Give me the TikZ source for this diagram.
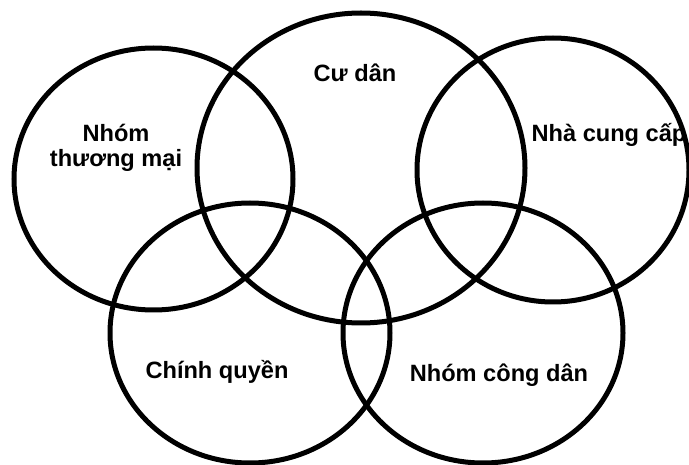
\documentclass[tikz,border=0pt]{standalone}
\usepackage{fontspec}
\setmainfont{Liberation Sans}
\usetikzlibrary{shapes.geometric}

\begin{document}
\begin{tikzpicture}[
    x=1pt, y=-1pt,
    ring/.style={ellipse, draw=black, line width=5pt, inner sep=0pt},
    lab/.style={font=\fontsize{23.6}{25}\selectfont\bfseries, align=center,
      inner sep=0pt, anchor=base}
  ]
    \useasboundingbox (0,0) rectangle (689,465);
    % circles
    \node[ring, minimum width=279pt, minimum height=262pt] (thuongmai) at (153.5,179) {};
    \node[ring, minimum width=328pt, minimum height=310pt] (cudan) at (361,168) {};
    \node[ring, minimum width=272pt, minimum height=264pt] (nhacc) at (553,170) {};
    \node[ring, minimum width=280pt, minimum height=260pt] (chinhq) at (250,333) {};
    \node[ring, minimum width=280pt, minimum height=260pt] (congdan) at (483,333) {};
    % labels
    \node[lab] (tm-lab) at (116,167) {Nhóm\\thương mại};
    \node[lab] (cd-lab) at (355,82) {Cư dân};
    \node[lab] (ncc-lab) at (609,142) {Nhà cung cấp};
    \node[lab] (cq-lab) at (217,379) {Chính quyền};
    \node[lab] (cdan-lab) at (499,382) {Nhóm công dân};
  \end{tikzpicture}
\end{document}
